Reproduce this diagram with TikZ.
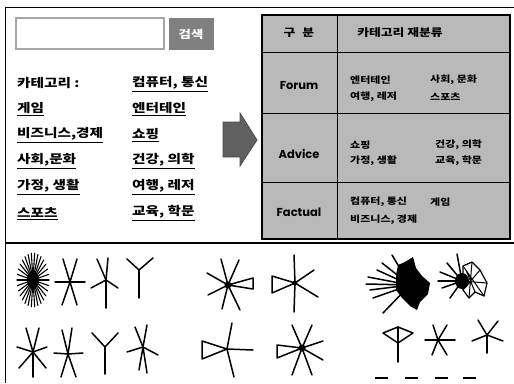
\documentclass[tikz,border=0pt]{standalone}
\usepackage{fontspec}
\newfontfamily\krw{Noto Sans CJK KR}[FakeStretch=1.22]
\newfontfamily\pop{Poppins}
\usetikzlibrary{arrows.meta}
\newcommand\ulnode[4]{%
  \node[lst] (#1) at (#2,#3) {#4};
  \draw[line width=0.9pt] ([yshift=-2pt]#1.south west) -- ([yshift=-2pt]#1.south east);}
\newcommand\stargraph[2]{\foreach \p in {#2} \draw[spoke] (#1) -- \p;}
\begin{document}
\begin{tikzpicture}[x=1pt,y=-1pt,
  lst/.style={anchor=west,font=\krw\bfseries\fontsize{12}{12}\selectfont,inner sep=0pt},
  cell/.style={anchor=west,font=\krw\bfseries\fontsize{9}{9}\selectfont,inner sep=0pt},
  lab/.style={font=\pop\bfseries\fontsize{11.5}{11.5}\selectfont,inner sep=0pt},
  hdr/.style={font=\krw\bfseries\fontsize{10.5}{11}\selectfont,inner sep=0pt},
  spoke/.style={line width=1.5pt,line cap=round},
]
\useasboundingbox (0,0) rectangle (514,383);
\fill[white] (0,0) rectangle (514,383);
% frame
\draw[line width=1pt] (5,383) -- (5,7) -- (514,7);
\draw[line width=1.6pt] (5,243) -- (514,243);
% search box
\draw[gray!70,line width=2pt] (16,18) rectangle (164,49);
\node[fill=black!50,minimum width=45pt,minimum height=32pt,text=white,
  font=\krw\bfseries\fontsize{11}{11}\selectfont] (btn) at (191,34) {검색};
% list
\node[lst] (cat) at (17,83) {카테고리 :};
\ulnode{l1}{17}{108}{게임}
\ulnode{l2}{17}{134}{비즈니스,경제}
\ulnode{l3}{17}{160}{사회,문화}
\ulnode{l4}{17}{186}{가정, 생활}
\ulnode{l5}{17}{212}{스포츠}
\ulnode{r0}{132}{83}{컴퓨터, 통신}
\ulnode{r1}{132}{108}{엔터테인}
\ulnode{r2}{132}{134}{쇼핑}
\ulnode{r3}{132}{160}{건강, 의학}
\ulnode{r4}{132}{186}{여행, 레저}
\ulnode{r5}{132}{212}{교육, 학문}
% arrow
\filldraw[fill=gray!75!black,draw=black!70,line width=0.8pt]
  (223,122) -- (240,122) -- (240,113) -- (257,140) -- (240,166) -- (240,157) -- (223,157) -- cycle;
% table
\fill[gray!55] (262,15) rectangle (510,239);
\draw[line width=1.3pt] (262,15) rectangle (510,239);
\draw[line width=1pt] (337,15) -- (337,239);
\draw[line width=1pt] (262,52) -- (510,52) (262,113) -- (510,113) (262,182) -- (510,182);
\node[hdr] (h1) at (299,33) {구\hspace{7pt}분};
\node[hdr] (h2) at (400,33) {카테고리 재분류};
\node[lab] (forum) at (299,86) {Forum};
\node[lab] (advice) at (299,154) {Advice};
\node[lab] (factual) at (299,212) {Factual};
\node[cell] (f1) at (350,80) {엔터테인};
\node[cell] (f2) at (430,80) {사회, 문화};
\node[cell] (f3) at (350,97) {여행, 레저};
\node[cell] (f4) at (430,97) {스포츠};
\node[cell] (a1) at (350,145) {쇼핑};
\node[cell] (a2) at (435,145) {건강, 의학};
\node[cell] (a3) at (350,161) {가정, 생활};
\node[cell] (a4) at (435,161) {교육, 학문};
\node[cell] (c1) at (350,202) {컴퓨터, 통신};
\node[cell] (c2) at (430,202) {게임};
\node[cell] (c3) at (350,220) {비즈니스, 경제};
% ---- graphs row 1
\coordinate (A1) at (33,280);
\foreach \a in {0,12,...,348} \draw[line width=1.1pt,line cap=round] (A1) -- ++(\a:{16} and {27});
\fill (A1) ellipse (6 and 9);
\coordinate (A2) at (70,282);
\stargraph{A2}{(63,259),(77,259),(55,282),(85,282),(62,305),(77,305)}
\coordinate (A3) at (106,280);
\stargraph{A3}{(97,259),(108,258),(91,288),(118,288),(106,308)}
\coordinate (A4) at (139,270);
\stargraph{A4}{(127,259),(153,258),(139,298)}
\coordinate (A5) at (228,285);
\stargraph{A5}{(221,259),(239,260),(207,273),(208,295),(222,309),(240,310)}
\draw[spoke,line join=round] (A5) -- (253,278) -- (253,289) -- cycle;
\fill (A5) circle (3.5);
\coordinate (A6) at (295,283);
\stargraph{A6}{(294,255),(294,312),(314,270),(318,297)}
\draw[spoke,line join=round] (A6) -- (272,276) -- (272,293) -- cycle;
\fill (A6) circle (2.5);
% blob 1
\coordinate (K1) at (410,285);
\stargraph{K1}{(368,277),(370,290),(373,298),(383,313),(382,263),(392,255),(377,270),(366,284)}
\fill[line join=round] (398,265) -- (405,262) -- (413,257) -- (416,268) -- (422,276) -- (430,283)
  -- (428,294) -- (420,302) -- (417,310) -- (410,306) -- (402,298) -- (396,290) -- (396,275) -- cycle;
% blob 2
\coordinate (K2) at (462,281);
\stargraph{K2}{(440,272),(442,288),(450,298),(457,254),(447,263),(438,281)}
\draw[line width=1.2pt,line join=round] (463,266) -- (472,262) -- (480,270) -- (487,283) -- (484,296)
  -- (475,292) -- (469,298) -- (463,290) -- cycle;
\draw[line width=1pt] (463,266) -- (484,296) (472,262) -- (469,298) (480,270) -- (463,290)
  (487,283) -- (462,281) (475,292) -- (466,270);
\fill (K2) ellipse (7 and 8);
% ---- graphs row 2
\coordinate (B1) at (33,352);
\stargraph{B1}{(26,328),(39,328),(17,347),(47,347),(19,368),(46,368),(33,377)}
\coordinate (B2) at (68,354);
\stargraph{B2}{(62,330),(72,328),(54,353),(83,353),(61,377),(76,377)}
\coordinate (B3) at (105,347);
\stargraph{B3}{(92,333),(118,333),(105,374)}
\coordinate (B4) at (143,347);
\stargraph{B4}{(135,327),(147,325),(127,352),(158,355),(139,370),(147,373)}
\coordinate (B5) at (227,349);
\stargraph{B5}{(232,323),(253,350),(234,377)}
\draw[spoke,line join=round] (B5) -- (202,341) -- (202,359) -- cycle;
\coordinate (B6) at (302,348);
\stargraph{B6}{(292,325),(312,325),(323,341),(323,360),(292,375),(312,375)}
\draw[spoke,line join=round] (B6) -- (277,345) -- (277,358) -- cycle;
\fill (B6) circle (3.5);
% kite
\draw[spoke,line join=round] (383,333) -- (398,327) -- (413,333) -- (398,343) -- cycle;
\draw[spoke] (398,327) -- (398,362);
\coordinate (E1) at (438,340);
\stargraph{E1}{(433,325),(447,325),(425,340),(455,340),(432,355),(447,355)}
\coordinate (F1) at (487,335);
\stargraph{F1}{(478,320),(498,321),(472,341),(503,341),(487,353)}
% dashes
\foreach \x in {375,405,435,463} \draw[line width=1.1pt] (\x,378) -- ++(13,0);
\end{tikzpicture}
\end{document}
